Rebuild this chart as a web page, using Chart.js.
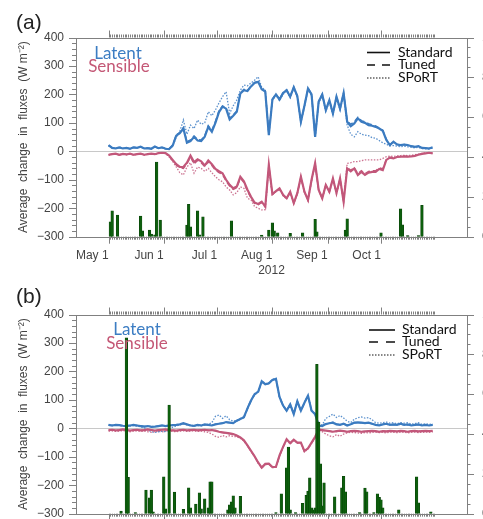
<!DOCTYPE html>
<html>
<head>
<meta charset="utf-8">
<script src="https://cdn.jsdelivr.net/npm/chart.js@4.4.0/dist/chart.umd.min.js"></script>
<style>
  html, body { margin: 0; padding: 0; width: 483px; height: 519px; overflow: hidden; background: #fff; }
  canvas { position: absolute; left: 0; }
  #chartA { top: 0; }
  #chartB { top: 277px; }
  .txt { position: absolute; white-space: nowrap; }
  .tag { font: 21px 'Liberation Sans', Arial, sans-serif; color: #222; line-height: 23px; }
  .big { font: 17px Lato, sans-serif; width: 100px; text-align: center; line-height: 20px; }
  .leg { font: 14px Lato, sans-serif; color: #111; line-height: 16px; }
  svg { position: absolute; left: 0; top: 0; }
</style>
</head>
<body>
<canvas id="chartA" width="520" height="280"></canvas>
<canvas id="chartB" width="520" height="280"></canvas>

<div class="txt tag" style="left:16px;top:10px">(a)</div>
<div class="txt big" style="left:68px;top:43px;color:#3c7dc3">Latent</div>
<div class="txt big" style="left:69px;top:56px;color:#c45876">Sensible</div>
<div class="txt leg" style="left:398px;top:44px">Standard</div>
<div class="txt leg" style="left:398px;top:56px">Tuned</div>
<div class="txt leg" style="left:398px;top:69px">SPoRT</div>

<div class="txt tag" style="left:16px;top:284px">(b)</div>
<div class="txt big" style="left:87px;top:319px;color:#3c7dc3">Latent</div>
<div class="txt big" style="left:87px;top:333px;color:#c45876">Sensible</div>
<div class="txt leg" style="left:402px;top:321px">Standard</div>
<div class="txt leg" style="left:402px;top:333px">Tuned</div>
<div class="txt leg" style="left:402px;top:346px">SPoRT</div>

<svg width="483" height="519">
  <g stroke="#111" fill="none">
    <line x1="367" y1="52.5" x2="390" y2="52.5" stroke-width="1.6"/>
    <line x1="367" y1="65" x2="390" y2="65" stroke-width="1.4" stroke-dasharray="8,7"/>
    <line x1="367" y1="78" x2="390" y2="78" stroke-width="1.2" stroke-dasharray="1.5,1.5"/>
    <line x1="369" y1="330" x2="395" y2="330" stroke-width="1.6"/>
    <line x1="369" y1="342" x2="395" y2="342" stroke-width="1.4" stroke-dasharray="9,8"/>
    <line x1="369" y1="355" x2="395" y2="355" stroke-width="1.2" stroke-dasharray="1.5,1.5"/>
  </g>
</svg>

<script>
// x axis: days since May 1 2012, values every second day
const monthDays = [0, 31, 61, 92, 123, 153];
const monthLabels = ['May 1', 'Jun 1', 'Jul 1', 'Aug 1', 'Sep 1', 'Oct 1'];
const days = [];
for (let d = 0; d <= 182; d += 2) days.push(d);

// panel (a)
const latStdA = [22,12,10,14,10,12,9,14,12,16, 10,11,9,17,11,14,9,8,20,55, 64,80,30,36,51,38,36,51,86,69,
  100,138,157,150,112,125,139,203,215,212, 228,240,244,218,210,57,182,200,182,205,
  215,192,225,194,104,160,221,200,51,175, 200,145,180,133,192,150,205,104,88,98,
  116,104,100,92,90,86,80,72,40,22, 34,24,22,24,22,18,16,18,12,11, 10,14];
const latTunA = [20,12,11,13,10,12,10,14,12,15, 11,11,9,16,11,13,9,8,22,58, 66,84,34,40,54,42,40,55,90,74,
  106,142,160,153,116,128,142,205,218,214, 230,242,246,220,212,60,184,201,184,206,
  216,193,226,195,106,161,222,201,54,176, 201,146,181,134,193,151,206,108,95,104,
  120,108,104,97,93,89,82,74,42,23, 34,25,22,24,22,18,16,18,12,11, 10,14];
const latSptA = [20,13,11,15,11,12,10,15,12,16, 11,12,10,16,12,14,10,9,18,50, 70,110,60,92,80,110,95,100,139,125,
  145,170,192,209,133,160,180,215,233,230, 240,250,262,225,215,60,180,198,178,200,
  212,188,220,190,100,155,216,195,48,170, 195,140,175,128,186,145,198,92,60,51,
  69,60,57,55,48,46,38,30,25,19, 20,18,16,18,16,14,12,14,10,9, 8,12];
const senStdA = [-12,-10,-8,-12,-9,-11,-8,-12,-10,-8, -12,-10,-8,-10,-6,-5,-6,-15,-30,-45,
  -55,-55,-40,-15,-38,-28,-35,-50,-32,-45, -62,-70,-77,-100,-118,-130,-124,-89,-105,-135,
  -160,-180,-185,-177,-194,-48,-150,-140,-130,-153, -165,-142,-182,-147,-89,-142,-171,-100,-42,-136,
  -165,-118,-142,-95,-147,-95,-177,-60,-70,-60, -83,-72,-83,-75,-72,-72,-62,-66,-30,-22,
  -25,-20,-19,-18,-19,-18,-16,-12,-9,-7, -5,-7];
const senTunA = [-12,-10,-9,-12,-9,-11,-9,-12,-10,-9, -12,-10,-9,-10,-7,-6,-7,-17,-33,-48,
  -58,-60,-44,-20,-44,-32,-40,-54,-37,-50, -66,-75,-82,-105,-122,-134,-128,-95,-110,-140,
  -164,-183,-188,-180,-196,-50,-152,-141,-132,-154, -166,-143,-182,-148,-91,-143,-172,-102,-44,-137,
  -165,-119,-142,-96,-147,-96,-176,-58,-66,-57, -79,-68,-78,-71,-68,-68,-58,-62,-28,-21,
  -24,-19,-18,-17,-18,-17,-15,-11,-8,-6, -5,-7];
const senSptA = [-13,-11,-9,-13,-10,-12,-9,-13,-11,-9, -13,-11,-9,-11,-7,-6,-7,-20,-35,-55,
  -75,-83,-55,-40,-77,-55,-60,-70,-60,-75, -89,-100,-107,-125,-136,-153,-145,-125,-130,-165,
  -171,-194,-200,-206,-205,-55,-152,-142,-134,-156, -168,-145,-184,-150,-92,-145,-173,-104,-46,-138,
  -166,-120,-145,-98,-150,-98,-178,-42,-40,-36, -36,-33,-30,-30,-30,-30,-30,-25,-19,-17,
  -18,-16,-15,-14,-15,-14,-12,-10,-7,-5, -4,-6];
const rainDaysA = [1,2,5,18,19,23,24,26,27,29, 44,45,46,50,51,53,69,86,90,92,
  93,95,102,109,116,117,133,134,153,164, 165,168,174,176];
const rainA = [0.75,1.3,1.08,1.03,0.3,0.33,0.13,0.1,3.75,0.83, 0.58,1.63,0.5,1.3,0.1,1.0,0.8,0.08,0.33,0.7,
  0.3,0.2,0.17,0.2,0.87,0.25,0.33,0.9,0.2,1.4, 0.6,0.05,0.05,1.58];

// panel (b)
const latStdB = [12,10,12,11,9,8,10,12,10,8, 6,8,5,6,8,10,8,10,11,12, 14,18,14,10,9,12,10,14,12,10,
  14,16,18,22,20,18,27,33,39,70, 98,120,128,165,155,158,170,174,110,80,
  62,84,50,95,62,90,115,62,50,10, 8,15,18,20,14,12,16,10,14,20,
  21,20,18,20,16,12,10,14,16,12, 14,12,16,12,14,10,12,14,10,12, 10,12];
const latTunB = [11,10,11,11,9,9,10,11,10,9, 7,8,6,7,8,10,9,10,11,12, 13,17,14,11,10,12,11,13,12,11,
  15,17,18,21,20,19,26,32,38,68, 96,118,127,163,154,157,169,173,108,79,
  61,83,50,94,61,89,113,61,49,11, 9,16,18,21,15,13,16,11,14,19,
  20,19,18,19,16,13,11,14,15,12, 13,12,15,12,13,11,12,13,11,12, 11,12];
const latSptB = [12,10,11,10,8,7,8,10,8,5, 2,-6,-12,-14,-12,-10,-12,-5,4,8, 12,16,12,9,8,10,9,12,14,20,
  42,47,35,44,30,25,28,35,40,72, 100,122,130,168,157,160,172,176,112,82,
  64,86,52,97,64,92,117,64,52,14, 12,35,42,50,38,45,36,25,20,32,
  37,40,36,38,30,20,18,20,22,18, 20,16,20,18,20,15,16,20,14,16, 14,15];
const senStdB = [-6,-5,-7,-6,-4,-6,-8,-6,-5,-7, -6,-4,-6,-8,-6,-5,-4,-6,-7,-8, -6,-5,-7,-6,-5,-7,-6,-5,-7,-6,
  -8,-12,-14,-16,-18,-20,-25,-32,-42,-60, -79,-98,-120,-138,-125,-124,-136,-135,-95,-65,
  -38,-52,-40,-50,-50,-80,-70,-50,-30,-5, -6,-8,-10,-12,-10,-8,-10,-12,-10,-9,
  -10,-12,-11,-10,-9,-10,-12,-10,-11,-9, -10,-11,-9,-10,-12,-10,-9,-11,-10,-9, -10,-9];
const senTunB = [-7,-6,-7,-6,-5,-6,-8,-7,-6,-7, -6,-5,-6,-8,-7,-6,-5,-6,-7,-8, -7,-6,-7,-6,-6,-7,-6,-6,-7,-7,
  -9,-13,-15,-17,-19,-21,-26,-33,-43,-61, -80,-99,-121,-139,-126,-125,-137,-136,-96,-66,
  -39,-53,-41,-51,-51,-81,-71,-51,-31,-6, -7,-9,-10,-12,-11,-9,-10,-12,-10,-10,
  -11,-12,-11,-10,-10,-11,-12,-10,-11,-10, -10,-11,-10,-10,-12,-10,-10,-11,-10,-10, -10,-10];
const senSptB = [-10,-9,-11,-10,-8,-10,-12,-10,-9,-11, -10,-12,-14,-12,-10,-12,-10,-9,-11,-12,
  -10,-9,-11,-10,-9,-11,-10,-12,-14,-20, -28,-32,-25,-30,-26,-28,-30,-35,-44,-62,
  -81,-100,-122,-140,-128,-126,-138,-137,-98,-68, -40,-55,-42,-53,-52,-83,-72,-52,-33,-10,
  -12,-20,-26,-30,-22,-28,-20,-16,-14,-15, -16,-18,-15,-16,-14,-13,-15,-14,-16,-13,
  -14,-15,-13,-14,-16,-14,-13,-15,-14,-13, -14,-13];
const rainDaysB = [7,10,11,15,21,23,24,25,31,32, 34,37,42,45,46,49,51,52,54,56,
  57,58,67,68,69,70,71,74,94,97, 100,101,102,105,109,111,112,113,114,115,
  116,117,118,119,120,121,127,131,132,133, 141,144,145,149,151,152,153,154,163,173, 174,181];
const rainB = [0.13,8.83,1.83,0.05,1.18,0.8,1.18,0.1,1.85,0.25, 5.45,1.08,0.22,1.3,0.3,0.48,1.05,0.25,0.75,0.3,
  1.6,1.6,0.2,0.45,0.6,0.9,0.3,0.87,0.05,1.0, 2.3,3.35,0.2,0.05,0.52,0.92,1.13,1.8,0.3,0.2,
  0.3,7.5,4.6,2.5,0.4,1.55,0.85,1.3,1.88,1.1, 0.05,1.28,1.1,0.05,1.0,0.82,0.7,0.3,0.2,1.85, 0.55,0.1];

const BLUE = '#3b7bc0', BLUE_L = '#5b91cd';
const RED = '#c2577a', RED_L = '#cc7391';
const GREEN = '#0d5f0d';

Chart.defaults.font.family = "'Liberation Sans', Arial, sans-serif";
Chart.defaults.color = '#444';

function series(vals) { return vals.map((v, i) => ({ x: days[i], y: v })); }

function line(vals, color, dash, width, order) {
  return { type: 'line', data: series(vals), borderColor: color, borderWidth: width, borderDash: dash,
    pointRadius: 0, fill: false, tension: 0, yAxisID: 'y', order: order };
}

// frame plus major / minor tick marks, all pointing outward
const frameTicks = {
  id: 'frameTicks',
  afterDraw(chart) {
    const { ctx, chartArea: a, scales } = chart;
    ctx.save();
    ctx.strokeStyle = '#808080';
    ctx.lineWidth = 1;
    ctx.strokeRect(Math.round(a.left) + 0.5, Math.round(a.top) + 0.5,
      Math.round(a.right - a.left), Math.round(a.bottom - a.top));
    ctx.beginPath();
    for (let v = -300; v <= 400; v += 20) {
      const y = Math.round(scales.y.getPixelForValue(v)) + 0.5;
      const len = v % 100 === 0 ? 7 : 4;
      ctx.moveTo(a.left - len, y); ctx.lineTo(a.left, y);
    }
    for (let v = 0; v <= 10; v += 0.5) {
      const y = Math.round(scales.y2.getPixelForValue(v)) + 0.5;
      const len = v % 2 === 0 ? 7 : 3.5;
      ctx.moveTo(a.right, y); ctx.lineTo(a.right + len, y);
    }
    for (let d = 0; d <= 183; d++) {
      const x = Math.round(scales.x.getPixelForValue(d)) + 0.5;
      const len = monthDays.includes(d) ? 7 : 3;
      ctx.moveTo(x, a.top - len); ctx.lineTo(x, a.top);
      ctx.moveTo(x, a.bottom); ctx.lineTo(x, a.bottom + len);
    }
    ctx.stroke();
    ctx.restore();
  }
};

function makePanel(id, lat, sen, rainDays, rain, showYear) {
  new Chart(document.getElementById(id), {
    type: 'line',
    data: {
      datasets: [
        { type: 'bar', data: rainDays.map((d, i) => ({ x: d, y: rain[i] })), yAxisID: 'y2',
          backgroundColor: GREEN, borderColor: '#073d07', borderWidth: 0.5, barThickness: 2.6, order: 0 },
        line(lat[2], BLUE_L, [1.5, 1.5], 1.3, 3),
        line(lat[1], BLUE, [5, 3], 1.4, 2),
        line(lat[0], BLUE, [], 2.2, 1),
        line(sen[2], RED_L, [1.5, 1.5], 1.3, 3),
        line(sen[1], RED, [5, 3], 1.4, 2),
        line(sen[0], RED, [], 2.2, 1)
      ]
    },
    options: {
      responsive: false,
      animation: false,
      layout: { padding: { top: 37.5, left: 0, right: 0, bottom: 0 } },
      plugins: { legend: { display: false }, tooltip: { enabled: false } },
      scales: {
        x: {
          type: 'linear', position: 'bottom', min: 0, max: 183,
          afterBuildTicks: s => { s.ticks = monthDays.map(v => ({ value: v })); },
          ticks: { callback: (v, i) => monthLabels[i], align: 'end', padding: 4, autoSkip: false,
            maxRotation: 0, minRotation: 0, color: '#444', font: { size: 12 } },
          grid: { display: false },
          border: { display: false },
          title: { display: showYear, text: '2012', color: '#444', font: { size: 12 },
            padding: { top: 0, bottom: 2.5 } },
          afterFit: s => { s.height = 43.3; }
        },
        y: {
          position: 'left', min: -300, max: 400,
          ticks: { stepSize: 100, padding: 12, color: '#444', font: { size: 12 },
            callback: v => v < 0 ? '\u2212' + Math.abs(v) : String(v) },
          grid: { drawTicks: false, lineWidth: 1,
            color: c => (c.tick && c.tick.value === 0) ? '#c8c8c8' : 'rgba(0,0,0,0)' },
          border: { display: false },
          title: { display: true, text: 'Average  change  in  fluxes  (W m\u207B\u00B2)', color: '#444',
            font: { size: 12 }, padding: { top: 16, bottom: 0 } },
          afterFit: s => { s.width = 76; }
        },
        y2: {
          position: 'right', min: 0, max: 10,
          ticks: { stepSize: 2, padding: 15, color: '#444', font: { size: 12 } },
          grid: { display: false, drawTicks: false },
          border: { display: false },
          afterFit: s => { s.width = 53; }
        }
      }
    },
    plugins: [frameTicks]
  });
}

makePanel('chartA', [latStdA, latTunA, latSptA], [senStdA, senTunA, senSptA], rainDaysA, rainA, true);
makePanel('chartB', [latStdB, latTunB, latSptB], [senStdB, senTunB, senSptB], rainDaysB, rainB, false);
</script>
</body>
</html>
